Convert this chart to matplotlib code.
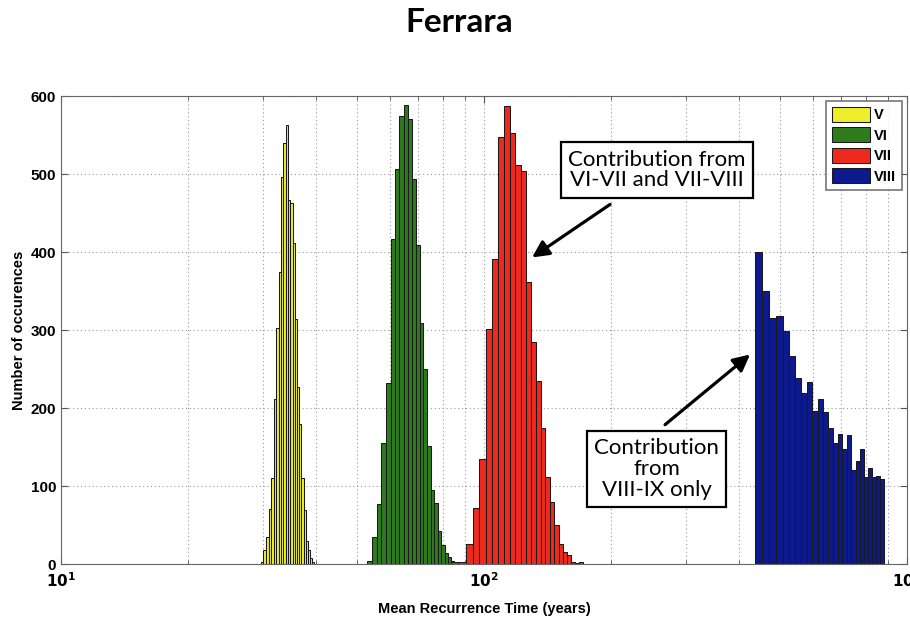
import numpy as np
import matplotlib
matplotlib.use('Agg')
import matplotlib.pyplot as plt
from matplotlib.ticker import LogLocator, NullFormatter, FixedLocator

# histogram counts, bins are linear in years
yellow_counts = [3, 18, 35, 71, 110, 212, 303, 374, 496, 540, 563, 467, 463, 412, 314, 227, 180, 110, 69, 29, 18, 8, 2]
yellow_range = (29.65, 39.6)

green_counts = [4, 35, 77, 155, 232, 417, 507, 575, 588, 570, 493, 409, 309, 250, 151, 95, 78, 42, 25, 14, 9, 4]
green_range = (52.8, 85.1)

red_counts = [2, 3, 26, 72, 135, 301, 391, 547, 587, 553, 512, 504, 361, 284, 235, 175, 111, 80, 50, 26, 16, 12, 2, 1, 3]
red_range = (83.4, 171.4)

blue_counts = [400, 350, 316, 318, 299, 267, 239, 219, 233, 196, 212, 195, 174, 155, 167, 147, 166, 121, 132, 148, 111, 123, 112, 113, 109]
blue_range = (437.0, 881.0)

labels = ["V", "VI", "VII", "VIII"]
colors = ["#eeee2c", "#2e7b1d", "#ee2a1f", "#0c1a8e"]

TICK_FONT = "Liberation Sans"
NOTE_FONT = "Lato"


def draw_hist(ax, counts, rng, color, label):
    edges = np.linspace(rng[0], rng[1], len(counts) + 1)
    ax.bar(edges[:-1], counts, width = np.diff(edges), align = "edge",
           color = color, edgecolor = "#1a1a1a", linewidth = 0.75, label = label)


def main():
    fig = plt.figure(figsize = (9.1, 6.19), dpi = 100)
    ax = fig.add_axes([61/910, 1 - 564/619, 846/910, 468/619])

    for counts, rng, c, lab in zip([yellow_counts, green_counts, red_counts, blue_counts],
                                   [yellow_range, green_range, red_range, blue_range],
                                   colors, labels):
        draw_hist(ax, counts, rng, c, lab)

    ax.set_xscale("log")
    ax.set_xlim(10, 1000)
    ax.set_ylim(0, 600)

    ax.xaxis.set_major_locator(FixedLocator([10, 100, 1000]))
    ax.set_xticklabels([r"$\mathbf{10^{1}}$", r"$\mathbf{10^{2}}$", r"$\mathbf{10^{3}}$"])
    ax.xaxis.set_minor_locator(LogLocator(base = 10, subs = np.arange(2, 10)))
    ax.xaxis.set_minor_formatter(NullFormatter())
    ax.set_yticks(range(0, 601, 100))

    ax.grid(True, which = "major", axis = "both", linestyle = (0, (1, 2.5)), color = "#999999", linewidth = 0.8)
    ax.grid(True, which = "minor", axis = "x", linestyle = (0, (1, 2.5)), color = "#999999", linewidth = 0.8)
    ax.set_axisbelow(True)

    ax.tick_params(direction = "in", which = "both", top = True, right = True, color = "#555555")
    ax.tick_params(which = "major", length = 5)
    ax.tick_params(which = "minor", length = 3)
    ax.tick_params(axis = "x", pad = 5)
    for lab in ax.get_yticklabels() + ax.get_xticklabels():
        lab.set_fontfamily(TICK_FONT)
        lab.set_fontweight("bold")
        lab.set_fontsize(11)
    for sp in ax.spines.values():
        sp.set_color("#666666")

    ax.set_xlabel("Mean Recurrence Time (years)", fontfamily = TICK_FONT, fontweight = "bold", fontsize = 10.5, labelpad = 9)
    ax.set_ylabel("Number of occurences", fontfamily = TICK_FONT, fontweight = "bold", fontsize = 10.5, labelpad = 3)

    leg = ax.legend(loc = "upper right", fancybox = False, handlelength = 2.6, handleheight = 1.2,
                    borderaxespad = 0.35, labelspacing = 0.35, handletextpad = 0.3, borderpad = 0.4,
                    prop = {"family": TICK_FONT, "weight": "bold", "size": 10.5})
    leg.get_frame().set_edgecolor("#555555")
    leg.get_frame().set_linewidth(1.2)

    fig.text(0.505, 0.963, "Ferrara", ha = "center", va = "center", fontfamily = NOTE_FONT,
             fontweight = "bold", fontsize = 24)

    box = dict(boxstyle = "square,pad=0.33", facecolor = "white", edgecolor = "black", linewidth = 1.6)
    arrow = dict(arrowstyle = "-|>,head_length=1.0,head_width=0.5", color = "black", linewidth = 2.3, shrinkA = 0, shrinkB = 0)

    ax.text(256.5, 505, "Contribution from\nVI-VII and VII-VIII", ha = "center", va = "center",
            fontfamily = NOTE_FONT, fontsize = 16, bbox = box, linespacing = 1.05, zorder = 5)
    ax.annotate("", xy = (129.9, 393), xytext = (198.6, 461), arrowprops = arrow, zorder = 4)

    ax.text(255.9, 122, "Contribution\nfrom\nVIII-IX only", ha = "center", va = "center",
            fontfamily = NOTE_FONT, fontsize = 16, bbox = box, linespacing = 1.05, zorder = 5)
    ax.annotate("", xy = (425.6, 268.6), xytext = (267.9, 178.6), arrowprops = arrow, zorder = 4)

    fig.savefig("out.png", dpi = 100)


if __name__ == "__main__":
    main()
